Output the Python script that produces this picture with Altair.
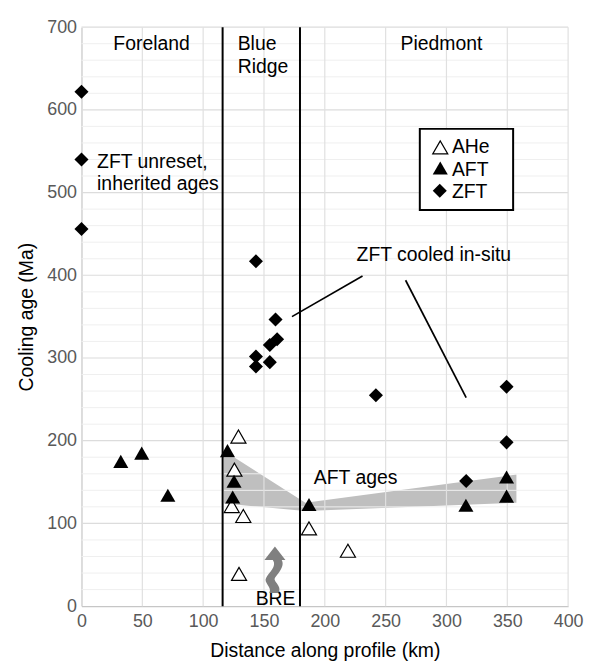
import altair as alt
import pandas as pd

# ---------------- data ----------------
x_ticks = [0, 50, 100, 150, 200, 250, 300, 350, 400]
y_ticks = [0, 100, 200, 300, 400, 500, 600, 700]
y_minor = [20, 40, 60, 80, 120, 140, 160, 180, 220, 240, 260, 280, 320, 340, 360, 380,
           420, 440, 460, 480, 520, 540, 560, 580, 620, 640, 660, 680]

zft_x = [0, 0, 0, 143.4, 159.5, 160.8, 154.8, 143.4, 143.4, 154.8, 242, 349.4, 349.4, 316.2]
zft_y = [622, 540, 456, 417, 346.6, 322.6, 315.7, 301.7, 289.7, 295, 255, 265.3, 198, 151.2]

aft_x = [32.3, 49.5, 71, 120, 125.4, 124.3, 187, 316, 349.4, 349.4]
aft_y = [175, 185, 134, 188, 151, 132, 122.8, 122, 156, 133]

ahe_x = [129, 125.7, 123.5, 133, 129.5, 187, 219]
ahe_y = [205, 165, 121, 109, 39, 94, 67]

# grey band of AFT ages
band_x = [117, 184, 357.5]
band_top = [188, 125, 159]
band_bottom = [124, 115, 125]

# province boundaries
boundary_x = [116, 179.6]

# annotation leader lines
lead_x1 = [173, 266.4]
lead_y1 = [350, 394]
lead_x2 = [231, 316.2]
lead_y2 = [399, 252]

# annotation texts (left aligned)
left_text = ["Blue\nRidge", "ZFT unreset,\ninherited ages", "ZFT cooled in-situ", "AFT ages"]
left_x = [128.4, 12.8, 226.1, 191]
left_y = [672.3, 530.1, 417.3, 147.2]

# annotation texts (centred)
center_text = ["Foreland", "Piedmont", "BRE"]
center_x = [57.6, 295.9, 159.5]
center_y = [672.3, 672.3, 1]

# hand-drawn legend box
legend_names = ["AHe", "AFT", "ZFT"]
legend_sym_x = [294.9, 294.9, 294.5]
legend_sym_y = [554.6, 529.6, 502.2]
legend_txt_x = [304.5, 304.5, 304.5]
legend_txt_y = [547.4, 520.2, 493.4]
legend_box = [278.1, 354.8, 479, 577]  # x0, x1, y0, y1

# BRE arrow anchor
arrow_x = [159]
arrow_y = [44]

# ---------------- styling helpers ----------------
FONT = "Liberation Sans"
xs = alt.Scale(domain=[x_ticks[0], x_ticks[-1]], nice=False, zero=False)
ys = alt.Scale(domain=[y_ticks[0], y_ticks[-1]], nice=False, zero=False)

xaxis = alt.Axis(values=x_ticks, title="Distance along profile (km)", grid=False,
                 ticks=False, tickSize=0, labelPadding=7, titlePadding=11,
                 labelFlush=False, labelOverlap=False,
                 domainColor="#c6c6c6", domainWidth=1.2,
                 labelFont=FONT, labelFontSize=18, labelColor="#595959",
                 titleFont=FONT, titleFontSize=19.5, titleFontWeight="normal", titleColor="#000000")
yaxis = alt.Axis(values=y_ticks, title="Cooling age (Ma)", grid=False,
                 ticks=False, tickSize=0, labelPadding=5, titlePadding=10,
                 labelFlush=False, labelOverlap=False,
                 domainColor="#c6c6c6", domainWidth=1.2,
                 labelFont=FONT, labelFontSize=18, labelColor="#595959",
                 titleFont=FONT, titleFontSize=19.5, titleFontWeight="normal", titleColor="#000000")


def X(f):
    return alt.X(f, type="quantitative", scale=xs, axis=xaxis)


def Y(f):
    return alt.Y(f, type="quantitative", scale=ys, axis=yaxis)


# ---------------- layers ----------------
band_df = pd.DataFrame({"x": band_x, "top": band_top, "bottom": band_bottom})
band = alt.Chart(band_df).mark_area(color="#bfbfbf", opacity=1).encode(
    x=X("x"), y=Y("top"), y2=alt.Y2("bottom"))

minor_df = pd.DataFrame({"y": y_minor, "x0": x_ticks[0], "x1": x_ticks[-1]})
minor = alt.Chart(minor_df).mark_rule(color="#efefef", strokeWidth=1).encode(
    y=Y("y"), x=X("x0"), x2="x1")

major_df = pd.DataFrame({"y": y_ticks[1:], "x0": x_ticks[0], "x1": x_ticks[-1]})
major = alt.Chart(major_df).mark_rule(color="#dcdcdc", strokeWidth=1.2).encode(
    y=Y("y"), x=X("x0"), x2="x1")

vgrid_df = pd.DataFrame({"x": x_ticks[1:], "y0": y_ticks[0], "y1": y_ticks[-1]})
vgrid = alt.Chart(vgrid_df).mark_rule(color="#e0e0e0", strokeWidth=1.2).encode(
    x=X("x"), y=Y("y0"), y2="y1")

bnd_df = pd.DataFrame({"x": boundary_x, "y0": y_ticks[0], "y1": y_ticks[-1]})
bounds = alt.Chart(bnd_df).mark_rule(color="black", strokeWidth=2).encode(
    x=X("x"), y=Y("y0"), y2="y1")

lead_df = pd.DataFrame({"x": lead_x1, "y": lead_y1, "x2": lead_x2, "y2": lead_y2})
leads = alt.Chart(lead_df).mark_rule(color="black", strokeWidth=1.7).encode(
    x=X("x"), y=Y("y"), x2="x2", y2="y2")

ahe = alt.Chart(pd.DataFrame({"x": ahe_x, "y": ahe_y})).mark_point(
    shape="triangle-up", filled=True, fill="white", stroke="black", strokeWidth=1.2,
    size=230, opacity=1).encode(x=X("x"), y=Y("y"))

aft = alt.Chart(pd.DataFrame({"x": aft_x, "y": aft_y})).mark_point(
    shape="triangle-up", filled=True, color="black", size=230, opacity=1).encode(
    x=X("x"), y=Y("y"))

zft = alt.Chart(pd.DataFrame({"x": zft_x, "y": zft_y})).mark_point(
    shape="diamond", filled=True, color="black", size=200, opacity=1).encode(
    x=X("x"), y=Y("y"))

box_df = pd.DataFrame({"x": [legend_box[0]], "x2": [legend_box[1]],
                       "y": [legend_box[2]], "y2": [legend_box[3]]})
box = alt.Chart(box_df).mark_rect(fill="white", stroke="black", strokeWidth=2).encode(
    x=X("x"), x2="x2", y=Y("y"), y2="y2")

leg_df = pd.DataFrame({"name": legend_names, "x": legend_sym_x, "y": legend_sym_y,
                       "tx": legend_txt_x, "ty": legend_txt_y})
leg_ahe = alt.Chart(leg_df.iloc[[0]]).mark_point(
    shape="triangle-up", filled=True, fill="white", stroke="black", strokeWidth=1.2,
    size=230, opacity=1).encode(x=X("x"), y=Y("y"))
leg_aft = alt.Chart(leg_df.iloc[[1]]).mark_point(
    shape="triangle-up", filled=True, color="black", size=230, opacity=1).encode(
    x=X("x"), y=Y("y"))
leg_zft = alt.Chart(leg_df.iloc[[2]]).mark_point(
    shape="diamond", filled=True, color="black", size=200, opacity=1).encode(
    x=X("x"), y=Y("y"))
leg_txt = alt.Chart(leg_df).mark_text(
    align="left", baseline="alphabetic", font=FONT, fontSize=19.5, color="black").encode(
    x=X("tx"), y=Y("ty"), text="name:N")

ltxt = alt.Chart(pd.DataFrame({"t": left_text, "x": left_x, "y": left_y})).mark_text(
    align="left", baseline="alphabetic", font=FONT, fontSize=19.5, color="black",
    lineBreak="\n", lineHeight=23).encode(x=X("x"), y=Y("y"), text="t:N")

ctxt = alt.Chart(pd.DataFrame({"t": center_text, "x": center_x, "y": center_y})).mark_text(
    align="center", baseline="alphabetic", font=FONT, fontSize=19.5, color="black").encode(
    x=X("x"), y=Y("y"), text="t:N")

ARROW = ("M0,-1 L0.45,-0.42 L0.29,-0.42 C0.45,-0.15 0.1,0.2 0.0,0.35 "
         "C-0.1,0.5 0.35,0.7 0.14,1 L-0.24,1 C-0.1,0.75 -0.5,0.55 -0.38,0.35 "
         "C-0.25,0.1 0.1,-0.15 -0.09,-0.42 L-0.45,-0.42 Z")
arrow = alt.Chart(pd.DataFrame({"x": arrow_x, "y": arrow_y})).mark_point(
    shape=ARROW, filled=True, color="#808080", size=2209, opacity=1, strokeWidth=0).encode(
    x=X("x"), y=Y("y"))

chart = alt.layer(
    band, minor, major, vgrid, bounds, leads, ahe, aft, zft,
    box, leg_ahe, leg_aft, leg_zft, leg_txt, ltxt, ctxt, arrow
).properties(
    width=490, height=583,
    autosize=alt.AutoSizeParams(type="none"),
    padding={"left": 74, "top": 17, "right": 17, "bottom": 56},
    background="white",
).configure_view(stroke=None)

chart.save("out.html", embed_options={"renderer": "svg", "actions": False})
